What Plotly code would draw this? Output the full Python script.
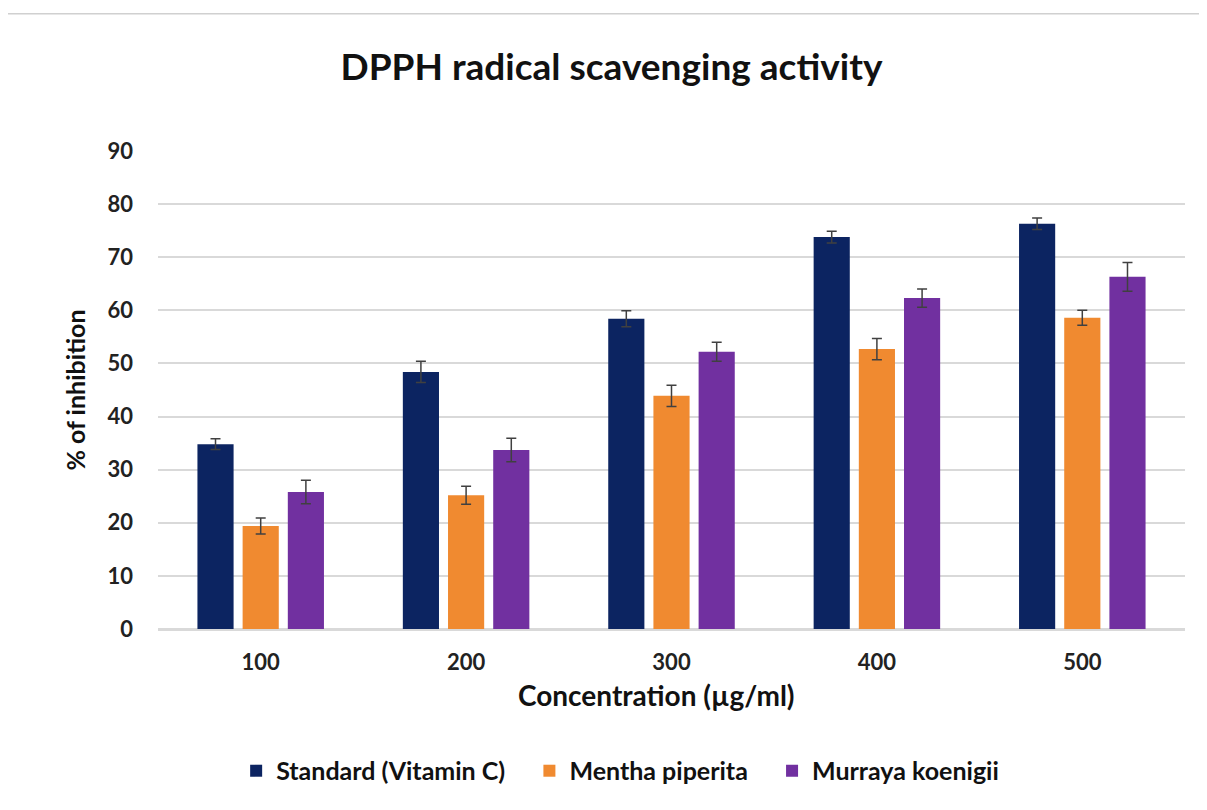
import plotly.graph_objects as go

categories = ["100", "200", "300", "400", "500"]
standard = [34.8, 48.4, 58.4, 73.8, 76.3]
standard_err = [1.0, 2.0, 1.5, 1.1, 1.1]
mentha = [19.4, 25.2, 43.9, 52.7, 58.6]
mentha_err = [1.5, 1.7, 2.0, 2.0, 1.4]
murraya = [25.8, 33.7, 52.2, 62.3, 66.3]
murraya_err = [2.2, 2.2, 1.8, 1.7, 2.7]

series = [
    ("Standard (Vitamin C)", standard, standard_err, "#0c2461"),
    ("Mentha piperita", mentha, mentha_err, "#f08a30"),
    ("Murraya koenigii", murraya, murraya_err, "#7130a0"),
]

font_family = "Lato, 'Open Sans', sans-serif"
pad = "\u00a0\u00a0\u00a0"

fig = go.Figure()
for i, (name, vals, errs, color) in enumerate(series):
    label = "<b>" + name + "</b>" + (pad if i < len(series) - 1 else "")
    fig.add_trace(go.Bar(
        x=categories, y=vals, name=label,
        marker=dict(color=color, line=dict(width=0)),
        error_y=dict(type="data", array=errs, visible=True,
                     color="#404040", thickness=1.5, width=5),
    ))

fig.update_layout(
    width=1207, height=810,
    paper_bgcolor="white", plot_bgcolor="white",
    margin=dict(l=150, r=30, t=143, b=189),
    barmode="group", bargap=0.34, bargroupgap=0.2,
    title=dict(text="<b>DPPH radical scavenging activity</b>",
               x=0.5, xanchor="center", y=1 - 59 / 810, yanchor="middle",
               font=dict(family=font_family, size=37, color="#111111")),
    font=dict(family=font_family, color="#222222"),
    legend=dict(orientation="h", x=0.45, xanchor="center",
                y=-0.297, yanchor="middle",
                font=dict(family=font_family, size=25, color="#111111"),
                itemwidth=30, traceorder="normal"),
    shapes=[dict(type="rect", xref="paper", yref="paper",
                 x0=-0.149, x1=1.08, y0=-0.5, y1=1.287,
                 line=dict(color="#d0d0d0", width=1.5), fillcolor="rgba(0,0,0,0)",
                 layer="below")],
    annotations=[dict(text="<b>Concentration (µg/ml)</b>", xref="paper", yref="paper",
                      x=0.485, y=-0.138, xanchor="center", yanchor="middle",
                      showarrow=False,
                      font=dict(family=font_family, size=28, color="#111111"))],
)

fig.update_xaxes(
    tickfont=dict(family=font_family, size=22, color="#222222"),
    ticklabelstandoff=13,
    showline=True, linecolor="#d9d9d9", linewidth=1.5, ticks="",
    tickprefix="<b>", ticksuffix="</b>",
)
fig.update_yaxes(
    title=dict(text="<b>% of inhibition</b>",
               font=dict(family=font_family, size=25, color="#111111"), standoff=14),
    range=[0, 90], dtick=10,
    tickfont=dict(family=font_family, size=22, color="#222222"),
    tickprefix="<b>", ticksuffix="</b>",
    showgrid=True, gridcolor="#d9d9d9", gridwidth=1.5,
    zeroline=True, zerolinecolor="#d9d9d9", zerolinewidth=1.5,
    ticks="", ticklabelstandoff=24,
)

fig.write_html("out.html")
